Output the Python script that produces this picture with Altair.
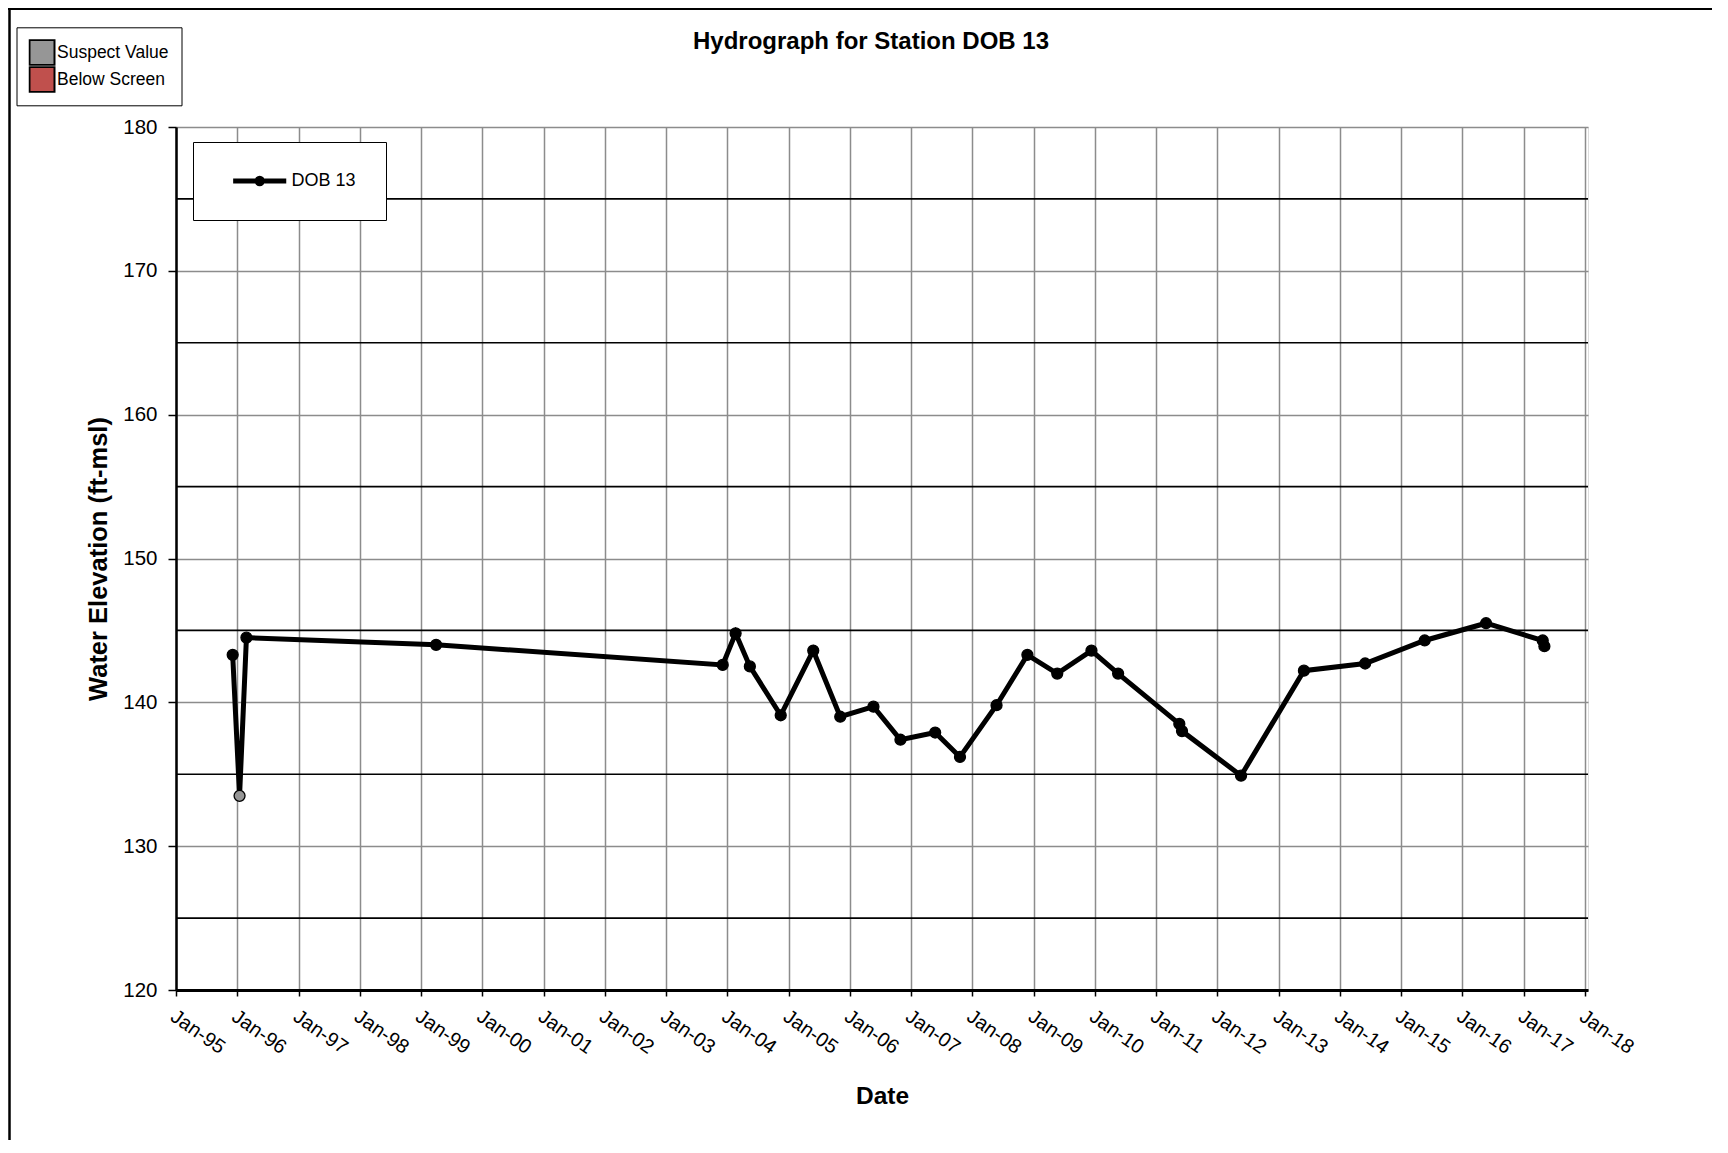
import altair as alt
import pandas as pd

# ---------------- data ----------------
dates = [
    "1995-12-05", "1996-01-15", "1996-02-25", "1999-04-01", "2003-12-05",
    "2004-02-20", "2004-05-15", "2004-11-15", "2005-05-28", "2005-11-05",
    "2006-05-22", "2006-10-30", "2007-05-25", "2007-10-20", "2008-05-25",
    "2008-11-25", "2009-05-22", "2009-12-12", "2010-05-20", "2011-05-20",
    "2011-06-05", "2012-05-22", "2013-06-01", "2014-06-01", "2015-05-22",
    "2016-05-22", "2017-04-25", "2017-05-05",
]
levels = [
    143.3, 133.5, 144.5, 144.0, 142.6,
    144.8, 142.5, 139.1, 143.6, 139.0,
    139.7, 137.4, 137.9, 136.2, 139.8,
    143.3, 142.0, 143.6, 142.0, 138.5,
    138.0, 134.9, 142.2, 142.7, 144.3,
    145.5, 144.3, 143.9,
]
flags = ["Normal", "Suspect Value"] + ["Normal"] * (len(dates) - 2)
station = "DOB 13"

year_ticks = list(range(1995, 2019))
y_ticks = [120, 130, 140, 150, 160, 170, 180]
minor_y = [125, 135, 145, 155, 165, 175]

flag_domain = ["Suspect Value", "Below Screen", "Normal"]
flag_colors = ["#969696", "#c0504d", "#000000"]
flag_legend = ["Suspect Value", "Below Screen"]

df = pd.DataFrame({"date": dates, "level": levels, "flag": flags, "station": station})
minor_df = pd.DataFrame({"y": minor_y})

FONT = "Liberation Sans"
W, H = 1412, 863

x_scale = alt.Scale(
    domain=[alt.DateTime(year=1995, month=1, date=1), alt.DateTime(year=2018, month=1, date=20)],
    nice=False,
)
y_scale = alt.Scale(domain=[120, 180], nice=False, zero=False)

x_axis = alt.Axis(
    values=[alt.DateTime(year=y, month=1, date=1) for y in year_ticks],
    format="%b-%y",
    labelAngle=35,
    labelAlign="left",
    labelBaseline="top",
    labelFontSize=20,
    labelPadding=10,
    labelOffset=2,
    labelOverlap=False,
    labelFlush=False,
    tickSize=6,
    tickWidth=1.5,
    tickColor="black",
    domainColor="black",
    domainWidth=3,
    grid=True,
    gridColor="#8c8c8c",
    gridWidth=1.5,
    title="Date",
    titleFontSize=24.5,
    titleFontWeight="bold",
    titleY=113,
    titleBaseline="alphabetic",
)
y_axis = alt.Axis(
    values=y_ticks,
    labelFontSize=20.5,
    labelPadding=11,
    tickSize=8,
    tickWidth=1.5,
    tickColor="black",
    domainColor="black",
    domainWidth=2.5,
    grid=True,
    gridColor="#8c8c8c",
    gridWidth=1.5,
    title="Water Elevation (ft-msl)",
    titleFontSize=25.5,
    titleFontWeight="bold",
    titleAngle=270,
    titleX=-70,
    titleBaseline="alphabetic",
)

X = alt.X("date:T", scale=x_scale, axis=x_axis)
Y = alt.Y("level:Q", scale=y_scale, axis=y_axis)

minor = alt.Chart(minor_df).mark_rule(color="black", strokeWidth=1.7).encode(
    y=alt.Y("y:Q", scale=y_scale, axis=y_axis)
)

line_symbol = "M-2.95,0H2.95M0.3,0A0.3,0.3,0,1,1,-0.3,0A0.3,0.3,0,1,1,0.3,0Z"

line = alt.Chart(df).mark_line(strokeWidth=5).encode(
    x=X,
    y=Y,
    stroke=alt.Stroke(
        "station:N",
        scale=alt.Scale(domain=[station], range=["black"]),
        legend=alt.Legend(
            title=None,
            orient="none",
            legendX=17,
            legendY=15,
            symbolType=line_symbol,
            symbolSize=324,
            symbolStrokeWidth=5,
            symbolFillColor="black",
            symbolOffset=25.2,
            labelOffset=20.2,
            clipHeight=18,
            labelFontSize=18,
            labelFont=FONT,
            labelColor="black",
            padding=30,
            strokeColor="black",
            fillColor="white",
        ),
    ),
)

points = alt.Chart(df).mark_point(
    shape="circle", filled=True, size=120, stroke="black", strokeWidth=1.3, opacity=1
).encode(
    x=X,
    y=Y,
    fill=alt.Fill(
        "flag:N",
        scale=alt.Scale(domain=flag_domain, range=flag_colors),
        legend=alt.Legend(
            title=None,
            orient="none",
            legendX=-159.5,
            legendY=-99.7,
            values=flag_legend,
            symbolType="square",
            symbolSize=625,
            symbolStrokeColor="black",
            symbolStrokeWidth=2,
            symbolOpacity=1,
            clipHeight=26.5,
            labelFontSize=17.5,
            labelFont=FONT,
            labelColor="black",
            labelOffset=1.5,
            rowPadding=0,
            padding=12,
            strokeColor="black",
            fillColor="white",
        ),
    ),
)

frame_left = alt.Chart().mark_rule(color="black", strokeWidth=2.5).encode(
    x=alt.value(-166.5), y=alt.value(-119), y2=alt.value(1018)
)
frame_top = alt.Chart().mark_rule(color="black", strokeWidth=2).encode(
    x=alt.value(-168), x2=alt.value(1536), y=alt.value(-118)
)

chart = (
    alt.layer(minor, line, points, frame_left, frame_top)
    .resolve_scale(fill="independent", stroke="independent")
    .properties(
        width=W,
        height=H,
        autosize=alt.AutoSizeParams(type="none"),
        padding={"left": 168, "top": 119, "right": 132, "bottom": 150},
        title=alt.TitleParams(
            "Hydrograph for Station DOB 13",
            fontSize=24,
            font=FONT,
            fontWeight="bold",
            color="black",
            anchor="middle",
            frame="group",
            baseline="alphabetic",
            offset=0,
            dy=66,
            dx=-11,
        ),
    )
    .configure_view(stroke="black", strokeWidth=2)
    .configure_axis(labelFont=FONT, titleFont=FONT, labelColor="black", titleColor="black")
    .configure(background="white")
)

chart.save("out.html", embed_options={"renderer": "svg", "actions": False})
